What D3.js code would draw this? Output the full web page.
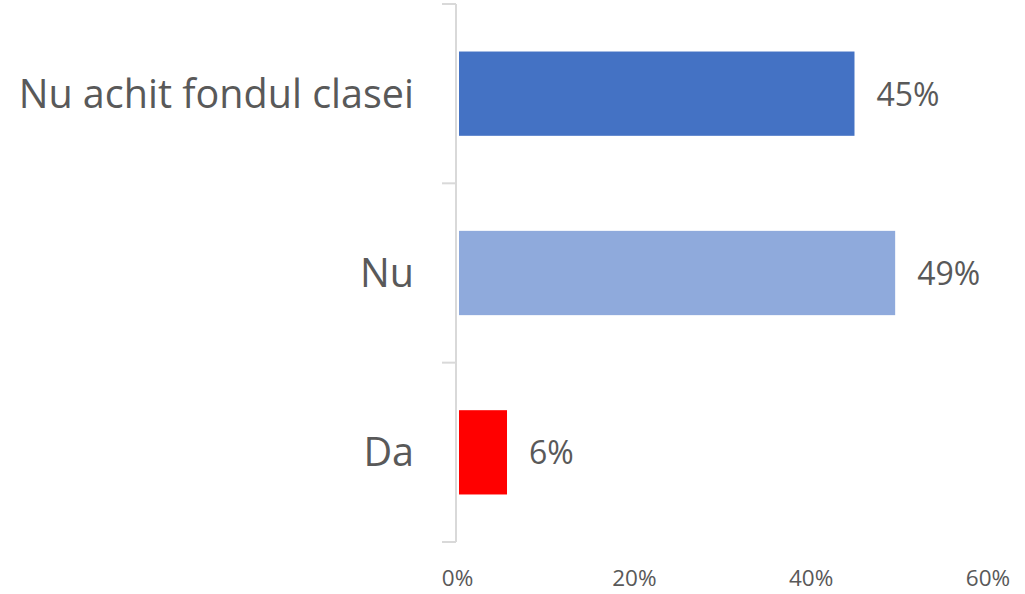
<!DOCTYPE html>
<html>
<head>
<meta charset="utf-8">
<script src="https://cdn.jsdelivr.net/npm/d3@7"></script>
<style>
  body { margin: 0; background: #fff; }
  svg { display: block; font-family: "Open Sans", "Noto Sans", sans-serif; }
</style>
</head>
<body>
<svg width="1025" height="594"></svg>
<script>
const categories = ["Nu achit fondul clasei", "Nu", "Da"];
const values = [44.9, 49.5, 5.6];
const valueLabels = ["45%", "49%", "6%"];
const colors = ["#4472C4", "#8FAADC", "#FF0000"];
const ticks = [0, 20, 40, 60];

const svg = d3.select("svg");

const x = d3.scaleLinear().domain([0, 60]).range([457.5, 988]);
const y = d3.scaleBand().domain(categories).range([4, 542]).paddingInner(0.53).paddingOuter(0.265);

// vertical axis line + category ticks
const axisColor = "#D9D9D9";
svg.append("line")
  .attr("x1", 456).attr("x2", 456)
  .attr("y1", 4).attr("y2", 542)
  .attr("stroke", axisColor).attr("stroke-width", 2);

const bounds = [4, 4 + (542 - 4) / 3, 4 + 2 * (542 - 4) / 3, 542];
svg.append("g")
  .selectAll("line")
  .data(bounds)
  .join("line")
  .attr("x1", 442).attr("x2", 456)
  .attr("y1", d => d).attr("y2", d => d)
  .attr("stroke", axisColor).attr("stroke-width", 2);

// bars
svg.append("g")
  .selectAll("rect")
  .data(categories)
  .join("rect")
  .attr("x", x(0) + 1.5)
  .attr("y", d => y(d))
  .attr("width", (d, i) => x(values[i]) - x(0) - 1.5)
  .attr("height", y.bandwidth())
  .attr("fill", (d, i) => colors[i]);

// category labels
svg.append("g")
  .selectAll("text")
  .data(categories)
  .join("text")
  .attr("x", 414)
  .attr("y", d => y(d) + y.bandwidth() / 2 + 14)
  .attr("text-anchor", "end")
  .attr("font-size", 39.5)
  .attr("fill", "#595959")
  .text(d => d);

// value labels
svg.append("g")
  .selectAll("text")
  .data(categories)
  .join("text")
  .attr("x", (d, i) => x(values[i]) + 22)
  .attr("y", d => y(d) + y.bandwidth() / 2 + 12)
  .attr("font-size", 32)
  .attr("fill", "#595959")
  .text((d, i) => valueLabels[i]);

// x tick labels
svg.append("g")
  .selectAll("text")
  .data(ticks)
  .join("text")
  .attr("x", d => x(d))
  .attr("y", 586)
  .attr("text-anchor", "middle")
  .attr("font-size", 22.5)
  .attr("fill", "#595959")
  .text(d => d + "%");
</script>
</body>
</html>
